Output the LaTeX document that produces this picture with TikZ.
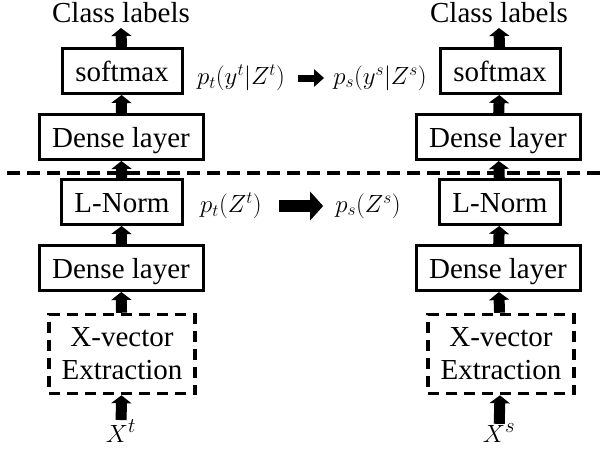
\documentclass[tikz,border=0pt]{standalone}
\usepackage{fontspec}
\setmainfont{Liberation Serif}
\usetikzlibrary{arrows.meta}

\begin{document}
\begin{tikzpicture}[x=1pt, y=-1pt,
	layer/.style={draw, line width=3pt, minimum height=45pt, inner sep=0pt, text height=20pt, text depth=0pt, font=\fontsize{29}{33}\selectfont},
	xbox/.style={draw, line width=3.5pt, dash pattern=on 11pt off 7pt, minimum width=146pt, minimum height=79pt, inner sep=0pt, align=center, font=\fontsize{29}{33}\selectfont},
	word/.style={inner sep=0pt, font=\fontsize{29}{33}\selectfont},
	prob/.style={inner sep=0pt, font=\fontsize{27}{30}\selectfont},
	upflow/.style={line width=11pt, -{Triangle[length=8pt, width=20pt]}},
	smallflow/.style={line width=7pt, -{Triangle[length=10pt, width=17pt]}},
	bigflow/.style={line width=12pt, -{Triangle[length=13pt, width=28pt]}},
	cut/.style={line width=3.5pt, dash pattern=on 13pt off 7pt}]
	\useasboundingbox (0,0) rectangle (602,450);

	\draw[cut] (7,173) -- (602,173);

	\node[word, anchor=base] (cls1) at (121,22) {Class labels};
	\node[layer, minimum width=120pt] (smax1) at (122,71) {softmax};
	\node[layer, minimum width=164pt] (dense1a) at (121,137) {Dense layer};
	\node[layer, minimum width=121pt] (lnorm1) at (122,202) {L-Norm};
	\node[layer, minimum width=164pt] (dense1b) at (121,268) {Dense layer};
	\node[xbox] (xvec1) at (122,354) {X-vector\\Extraction};
	\node[word, anchor=base] (xin1) at (121,442) {$X^t$};

	\node[word, anchor=base] (cls2) at (499,22) {Class labels};
	\node[layer, minimum width=120pt] (smax2) at (500,71) {softmax};
	\node[layer, minimum width=164pt] (dense2a) at (498,137) {Dense layer};
	\node[layer, minimum width=121pt] (lnorm2) at (500,202) {L-Norm};
	\node[layer, minimum width=164pt] (dense2b) at (498,268) {Dense layer};
	\node[xbox] (xvec2) at (501,354) {X-vector\\Extraction};
	\node[word, anchor=base] (xin2) at (499,442) {$X^s$};

	\node[prob] (pty) at (241,78) {$p_t(y^t|Z^t)$};
	\node[prob] (psy) at (380,78) {$p_s(y^s|Z^s)$};
	\node[prob] (ptz) at (231,206) {$p_t(Z^t)$};
	\node[prob] (psz) at (368,206) {$p_s(Z^s)$};

	\draw[upflow] (smax1) -- (cls1.south |- 0,28);
	\draw[upflow] (dense1a) -- (smax1);
	\draw[upflow] (lnorm1) -- (dense1a);
	\draw[upflow] (dense1b) -- (lnorm1);
	\draw[upflow] (xvec1) -- (dense1b);
	\draw[upflow] (xin1) -- (xvec1);

	\draw[upflow] (smax2) -- (cls2.south |- 0,28);
	\draw[upflow] (dense2a) -- (smax2);
	\draw[upflow] (lnorm2) -- (dense2a);
	\draw[upflow] (dense2b) -- (lnorm2);
	\draw[upflow] (xvec2) -- (dense2b);
	\draw[upflow] (xin2) -- (xvec2);

	\draw[smallflow, shorten <=13pt, shorten >=9pt] (pty) -- (psy);
	\draw[bigflow, shorten <=17pt, shorten >=12pt] (ptz) -- (psz);
\end{tikzpicture}
\end{document}
